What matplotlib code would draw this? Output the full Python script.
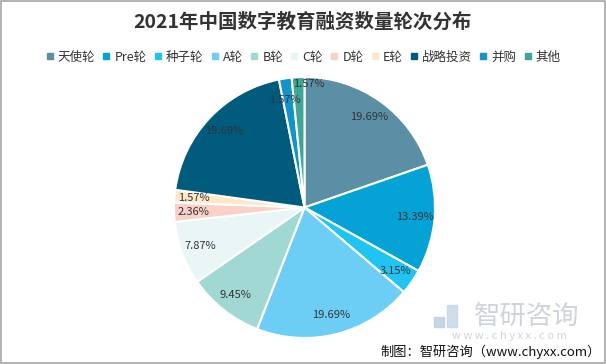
import matplotlib
matplotlib.use('Agg')
import matplotlib.pyplot as plt
from matplotlib.lines import Line2D
from matplotlib.patches import Rectangle
import numpy as np

plt.rcParams['font.family'] = ['Noto Sans CJK SC', 'DejaVu Sans']

# 融资轮次及占比 (%)
labels = ['天使轮', 'Pre轮', '种子轮', 'A轮', 'B轮', 'C轮', 'D轮', 'E轮', '战略投资', '并购', '其他']
shares = [19.69, 13.39, 3.15, 19.69, 9.45, 7.87, 2.36, 1.57, 19.69, 1.57, 1.57]
colors = ['#5b8fa6', '#05a2d6', '#1fc4f2', '#6dcef5', '#a2d8d4', '#eaf6f6',
          '#f9d1c8', '#fde8c8', '#005b7d', '#1294c9', '#3fa596']

W, H = 606, 364
fig = plt.figure(figsize=(W / 100, H / 100), dpi=100)

# 外框
fig.patches.append(Rectangle((0.001, 0.002), 0.997, 0.995, transform=fig.transFigure,
                             fill=False, edgecolor='#a6a6a6', linewidth=1.2))

cx, cy, r = 304.5, 207.5, 130.5
ax = fig.add_axes([(cx - r) / W, (H - cy - r) / H, 2 * r / W, 2 * r / H])
wedges, texts, autotexts = ax.pie(
    shares, colors=colors, startangle=90, counterclock=False,
    autopct=lambda p: '%.2f%%' % p, pctdistance=0.85,
    wedgeprops=dict(edgecolor='white', linewidth=1.5),
    textprops=dict(fontsize=8, color='#333333'))
ax.set_xlim(-1, 1)
ax.set_ylim(-1, 1)
ax.axis('off')

# 小扇区标签错开
offsets = {9: (0.84, 1.7), 10: (0.95, -5.0)}   # 半径, 角度偏移(度)
for i, (dist, dth) in offsets.items():
    w = wedges[i]
    ang = np.deg2rad((w.theta1 + w.theta2) / 2 + dth)
    autotexts[i].set_position((dist * np.cos(ang), dist * np.sin(ang)))

fig.text(0.5, 1 - 22 / H, '2021年中国数字教育融资数量轮次分布', ha='center', va='center',
         fontsize=14, fontweight='bold', color='#333333')

handles = [Line2D([], [], marker='s', linestyle='', markersize=5, color=c) for c in colors]
fig.legend(handles, labels, loc='center', bbox_to_anchor=(0.5, 1 - 57 / H), ncol=11,
           frameon=False, fontsize=9, handlelength=0.7, handletextpad=0.3,
           columnspacing=0.55, labelcolor='#333333')

# 水印
wm = '#c5ccd6'
fig.patches.append(Rectangle((434 / W, 1 - 327 / H), 10 / W, 10 / H, transform=fig.transFigure,
                             color='#b9cce0', alpha=0.8))
fig.patches.append(Rectangle((447 / W, 1 - 327 / H), 10 / W, 22 / H, transform=fig.transFigure,
                             color='#c5d6e6', alpha=0.8))
fig.text(527 / W, 1 - 316 / H, '智研咨询', ha='center', va='center', fontsize=19,
         color=wm, alpha=0.85)
fig.text(509 / W, 1 - 336 / H, 'w w w . c h y x x . c o m', ha='center', va='center',
         fontsize=8, color=wm, alpha=0.85)

# 来源
fig.text(601 / W, 1 - 352 / H, '制图：智研咨询（www.chyxx.com）', ha='right', va='center',
         fontsize=9.5, color='#111111')

fig.savefig('out.png', dpi=100)
